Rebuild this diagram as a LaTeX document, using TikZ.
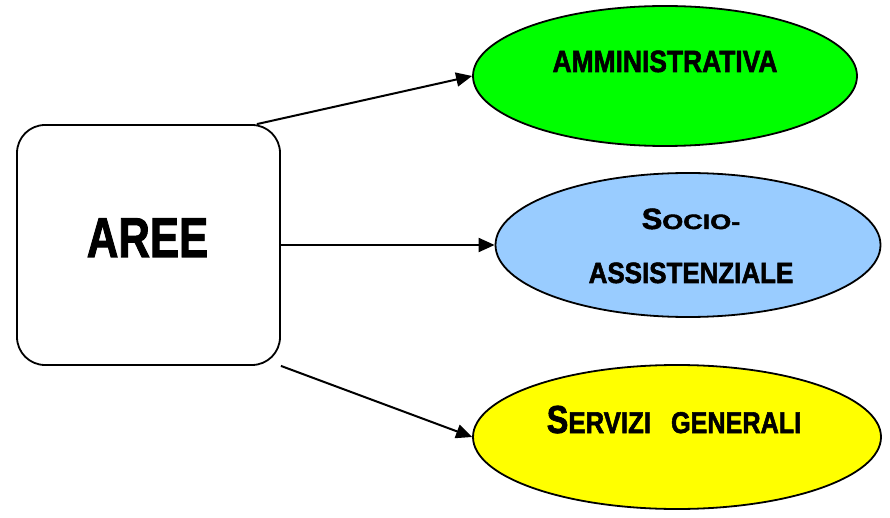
\documentclass[tikz,border=0pt]{standalone}
\usepackage{fontspec}
\usepackage{graphicx}
\usetikzlibrary{shapes.geometric,arrows.meta}
\newfontfamily\arfont[FakeBold=2]{Liberation Sans}
\newcommand{\txtpiece}[3]{\scalebox{#2}[1]{\fontsize{#1}{#1}\selectfont #3}}
\begin{document}
\begin{tikzpicture}[x=1pt,y=-1pt,
  area/.style={ellipse,draw=black,line width=1.8pt,inner sep=0pt},
  lbl/.style={inner sep=0pt,anchor=base,font=\arfont\bfseries},
  conn/.style={line width=2pt,-{Triangle[length=16pt,width=14pt]}}]
\useasboundingbox (0,0) rectangle (890,518);
\node[draw=black,line width=1.8pt,rounded corners=28pt,minimum width=263pt,minimum height=240pt,inner sep=0pt] (box) at (148.5,245) {};
\node[area,fill={rgb,255:red,0;green,255;blue,0},minimum width=384pt,minimum height=140pt] (green) at (665,76) {};
\node[area,fill={rgb,255:red,153;green,204;blue,255},minimum width=385pt,minimum height=144pt] (blue) at (688,245) {};
\node[area,fill={rgb,255:red,255;green,255;blue,0},minimum width=408pt,minimum height=144pt] (yellow) at (677,437) {};
\node[lbl] (taree) at (147.5,257) {\txtpiece{56}{0.78}{AREE}};
\node[lbl] (tamm) at (665,72) {\txtpiece{30.7}{0.86}{AMMINISTRATIVA}};
\node[lbl] (tsocio) at (691,229) {\txtpiece{29.3}{1.05}{S}\scalebox{0.92}[0.71]{\fontsize{29.3}{29.3}\selectfont OCIO-}};
\node[lbl] (tassist) at (691,283) {\txtpiece{29.3}{0.885}{ASSISTENZIALE}};
\node[lbl] (tserv) at (674,433) {\txtpiece{39}{0.83}{S}\txtpiece{30}{0.86}{ERVIZI}\hspace{20pt}\txtpiece{30}{0.84}{GENERALI}};
\draw[conn] ([xshift=-24pt]box.north east) -- (green.west);
\draw[conn] (box.east) -- (blue.west);
\draw[conn] (box.south east) -- (yellow.west);
\end{tikzpicture}
\end{document}
